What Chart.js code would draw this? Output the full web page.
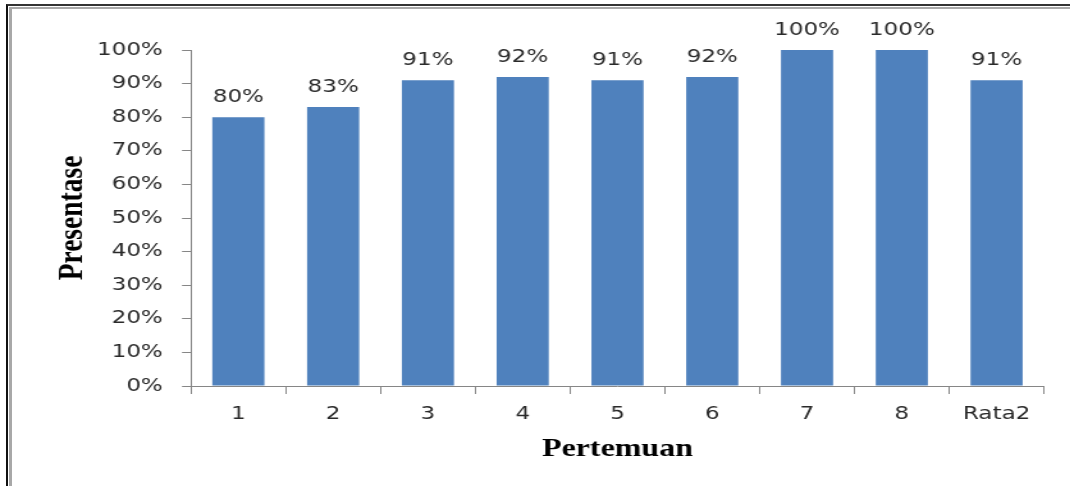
<!DOCTYPE html>
<html>
<head>
<meta charset="utf-8">
<script src="https://cdn.jsdelivr.net/npm/chart.js@4.4.0/dist/chart.umd.min.js"></script>
<style>
  html, body { margin: 0; padding: 0; background: #fff; overflow: hidden; width: 1070px; height: 486px; }
  /* the chart is laid out on a narrower canvas and widened horizontally */
  #stage { position: absolute; left: 0; top: 0; width: 836px; height: 486px; transform: scaleX(1.28); transform-origin: 0 0; }
  #c { display: block; width: 836px; height: 486px; }
  .edge { position: absolute; right: 0; bottom: -10px; pointer-events: none; }
</style>
</head>
<body>
<div id="stage"><canvas id="c" width="836" height="486"></canvas></div>
<div class="edge" style="left:6px; top:4px; border-left:2px solid #111; border-top:2px solid #333;"></div>
<div class="edge" style="left:9px; top:7px; border-left:3px solid #a8a8a8; border-top:2px solid #a8a8a8;"></div>
<script>
// Attendance percentage per meeting, plus the average ("Rata2")
const categories = ['1', '2', '3', '4', '5', '6', '7', '8', 'Rata2'];
const percentages = [80, 83, 91, 92, 91, 92, 100, 100, 91];
const yTickValues = [0, 10, 20, 30, 40, 50, 60, 70, 80, 90, 100];

const BAR_BLUE = '#4F81BD';
const AXIS_GREY = '#868686';
const TEXT_DARK = '#2a2a2a';
const sansFont = { family: '"DejaVu Sans", Verdana, sans-serif', size: 18 };
const serifBold = (size) => ({ family: '"Liberation Serif", "Times New Roman", serif', size: size, weight: 'bold' });

// Writes each bar's percentage just above it
const barValueLabels = {
  id: 'barValueLabels',
  afterDatasetsDraw(chart) {
    const { ctx } = chart;
    const meta = chart.getDatasetMeta(0);
    ctx.save();
    ctx.font = `${sansFont.size}px ${sansFont.family}`;
    ctx.fillStyle = TEXT_DARK;
    ctx.textAlign = 'center';
    ctx.textBaseline = 'alphabetic';
    meta.data.forEach((bar, i) => {
      ctx.fillText(percentages[i] + '%', bar.x, bar.y - 15);
    });
    ctx.restore();
  }
};

new Chart(document.getElementById('c'), {
  type: 'bar',
  data: {
    labels: categories,
    datasets: [{
      data: percentages,
      backgroundColor: BAR_BLUE,
      borderWidth: 0,
      categoryPercentage: 1,
      barPercentage: 0.55
    }]
  },
  options: {
    responsive: false,
    animation: false,
    devicePixelRatio: 1,
    layout: { padding: { left: 20, right: 20.4, top: 50, bottom: 0 } },
    plugins: { legend: { display: false }, tooltip: { enabled: false } },
    scales: {
      x: {
        grid: { display: true, drawOnChartArea: false, offset: true, tickLength: 8, color: AXIS_GREY, lineWidth: 1 },
        border: { color: AXIS_GREY, width: 1 },
        ticks: { font: sansFont, color: TEXT_DARK, padding: 10, maxRotation: 0 },
        title: { display: true, text: 'Pertemuan', font: serifBold(25), color: '#000', padding: { top: 0, bottom: 21 } },
        afterFit(scale) { scale.height = 100; }
      },
      y: {
        min: 0,
        max: 100,
        grid: { drawOnChartArea: false, tickLength: 7, color: AXIS_GREY, lineWidth: 1 },
        border: { color: AXIS_GREY, width: 1 },
        ticks: { font: sansFont, color: TEXT_DARK, padding: 15, callback: (v) => v + '%' },
        afterBuildTicks(scale) { scale.ticks = yTickValues.map((v) => ({ value: v })); },
        title: { display: true, text: 'Presentase', font: serifBold(27.5), color: '#000', padding: { top: 20, bottom: 0 } },
        afterFit(scale) { scale.width = 129.2; }
      }
    }
  },
  plugins: [barValueLabels]
});
</script>
</body>
</html>
